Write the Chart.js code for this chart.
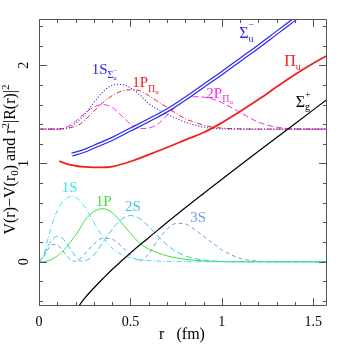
<!DOCTYPE html>
<html lang="en">
  <head>
    <meta charset="UTF-8" />
    <title>Potentials and wave functions</title>
    <script src="https://cdn.jsdelivr.net/npm/chart.js"></script>
    <style>
      html, body { margin: 0; padding: 0; background: #fff; }
      #box { width: 346px; height: 346px; }
    </style>
  </head>
  <body>
    <div id="box"><canvas id="grafico"></canvas></div>

    <script>
      // r grid (fm) shared by the wave functions
      const r = [0, 0.025, 0.05, 0.075, 0.1, 0.125, 0.15, 0.175, 0.2, 0.225, 0.25, 0.3, 0.35, 0.4, 0.45, 0.5,
        0.55, 0.6, 0.65, 0.7, 0.75, 0.8, 0.85, 0.9, 0.95, 1.0, 1.1, 1.2, 1.3, 1.4, 1.5, 1.575];

      // r^2 |R(r)|^2 , Sigma_g+ states (baseline 0)
      const wave1S = [0, 0.07, 0.24, 0.40, 0.52, 0.60, 0.645, 0.665, 0.655, 0.62, 0.56, 0.40, 0.25, 0.14, 0.075, 0.04,
        0.022, 0.012, 0.007, 0.004, 0.002, 0.001, 0, 0, 0, 0, 0, 0, 0, 0, 0, 0];
      const wave1P = [0, 0.002, 0.01, 0.03, 0.06, 0.10, 0.15, 0.21, 0.27, 0.34, 0.42, 0.51, 0.54, 0.50, 0.40, 0.29,
        0.19, 0.13, 0.09, 0.06, 0.04, 0.025, 0.015, 0.008, 0.004, 0.002, 0, 0, 0, 0, 0, 0];
      const wave2S = [0, 0.06, 0.16, 0.23, 0.26, 0.245, 0.19, 0.12, 0.055, 0.008, 0.01, 0.07, 0.20, 0.33, 0.43, 0.47,
        0.44, 0.36, 0.26, 0.17, 0.105, 0.06, 0.033, 0.017, 0.008, 0.003, 0, 0, 0, 0, 0, 0];
      const wave3S = [0, 0.05, 0.13, 0.175, 0.17, 0.125, 0.065, 0.02, 0.004, 0.03, 0.08, 0.18, 0.24, 0.23, 0.16, 0.07,
        0.01, 0.08, 0.22, 0.33, 0.39, 0.385, 0.33, 0.26, 0.19, 0.12, 0.035, 0.006, 0, 0, 0, 0];

      // hybrid states (baseline 1.35)
      const wave1SSu = [1.35, 1.35, 1.35, 1.35, 1.35, 1.352, 1.36, 1.38, 1.41, 1.45, 1.50, 1.62, 1.73, 1.795, 1.805, 1.77,
        1.70, 1.61, 1.55, 1.50, 1.46, 1.42, 1.39, 1.37, 1.357, 1.352, 1.35, 1.35, 1.35, 1.35, 1.35, 1.35];
      const wave1PPu = [1.35, 1.35, 1.35, 1.35, 1.35, 1.352, 1.357, 1.365, 1.38, 1.40, 1.44, 1.53, 1.62, 1.69, 1.735, 1.75,
        1.74, 1.69, 1.63, 1.57, 1.51, 1.455, 1.42, 1.39, 1.37, 1.36, 1.352, 1.35, 1.35, 1.35, 1.35, 1.35];
      const wave2PPu = [1.35, 1.35, 1.35, 1.35, 1.35, 1.355, 1.37, 1.395, 1.43, 1.47, 1.51, 1.575, 1.60, 1.57, 1.49, 1.40,
        1.355, 1.36, 1.40, 1.49, 1.58, 1.65, 1.68, 1.675, 1.655, 1.62, 1.52, 1.42, 1.37, 1.352, 1.35, 1.35];

      // potentials V(r)-V(r0)
      const rSigmaG = [0.21, 0.25, 0.3, 0.35, 0.4, 0.5, 0.6, 0.73, 0.9, 1.05, 1.2, 1.4, 1.578];
      const vSigmaG = [-0.47, -0.37, -0.267, -0.17, -0.078, 0.09, 0.245, 0.445, 0.695, 0.91, 1.124, 1.405, 1.655];
      const rPiU = [0.11, 0.15, 0.2, 0.25, 0.3, 0.35, 0.4, 0.5, 0.6, 0.72, 0.8, 0.9, 1.0, 1.1, 1.2, 1.3, 1.4, 1.5, 1.578];
      const vPiU = [1.025, 0.997, 0.977, 0.965, 0.96, 0.961, 0.968, 1.02, 1.09, 1.178, 1.24, 1.315, 1.415, 1.53, 1.65,
        1.78, 1.905, 2.02, 2.1];
      const rSigmaU = [0.18, 0.25, 0.3, 0.4, 0.5, 0.6, 0.7, 0.8, 0.9, 1.0, 1.1, 1.2, 1.3, 1.4, 1.45];
      const vSigmaU = [1.09, 1.13, 1.17, 1.25, 1.345, 1.44, 1.54, 1.66, 1.79, 1.92, 2.055, 2.19, 2.33, 2.47, 2.54];

      // ticks
      const xTicks = [0, 0.5, 1, 1.5];
      const xTickLabels = ["0", "0.5", "1", "1.5"];
      const yTicks = [0, 1, 2];
      const yTickLabels = ["0", "1", "2"];

      const FONT = '"Liberation Serif", "Times New Roman", serif';

      function pts(xs, ys) {
        return xs.map((v, i) => ({ x: v, y: ys[i] }));
      }

      function serie(label, xs, ys, color, width, dash, order, suave) {
        const d = {
          label: label,
          data: pts(xs, ys),
          borderColor: color,
          borderWidth: width,
          borderDash: dash || [],
          pointRadius: 0,
          fill: false,
          order: order || 5,
        };
        if (suave) d.tension = 0.4;
        else d.cubicInterpolationMode = "monotone";
        return d;
      }

      function richWidth(ctx, segs) {
        let w = 0;
        for (const [t, s, dy, stay] of segs) {
          ctx.font = s + "px " + FONT;
          if (!stay) w += ctx.measureText(t).width;
        }
        return w;
      }

      function drawRich(ctx, x, y, segs) {
        let cx = x;
        for (const [t, s, dy, stay] of segs) {
          ctx.font = s + "px " + FONT;
          ctx.fillText(t, cx, y + dy);
          if (!stay) cx += ctx.measureText(t).width;
        }
      }

      const rotulos = [
        { x: 0.124, y: 0.707, c: "#40e0f0", segs: [["1S", 15, 0]] },
        { x: 0.31, y: 0.572, c: "#3ee03e", segs: [["1P", 15, 0]] },
        { x: 0.47, y: 0.521, c: "#3cc8dc", segs: [["2S", 15, 0]] },
        { x: 0.827, y: 0.40, c: "#6aa0dc", segs: [["3S", 15, 0]] },
        { x: 0.288, y: 1.915, c: "#2828f0", segs: [["1S", 15, 0], ["Σ", 10, 4], ["−", 7, -1, true], ["u", 7, 6]] },
        { x: 0.51, y: 1.781, c: "#f02020", segs: [["1P", 15, 0], ["Π", 10, 5], ["u", 7, 7]] },
        { x: 0.915, y: 1.665, c: "#f030f0", segs: [["2P", 15, 0], ["Π", 10, 4], ["u", 7, 6]] },
        { x: 1.095, y: 2.273, c: "#2828f0", segs: [["Σ", 16, 0], ["−", 10, -10, true], ["u", 10, 4]] },
        { x: 1.341, y: 1.993, c: "#f02020", segs: [["Π", 16, 0], ["u", 10, 4]] },
        { x: 1.404, y: 1.572, c: "#000", segs: [["Σ", 16, 0], ["+", 10, -9, true], ["g", 10, 3]] },
      ];

      const moldura = {
        id: "moldura",
        afterDraw(chart) {
          const { ctx, chartArea: a, scales } = chart;
          const sx = scales.x, sy = scales.y;
          ctx.save();
          ctx.strokeStyle = "#555";
          ctx.lineWidth = 1;
          ctx.beginPath();
          ctx.rect(a.left + 0.5, a.top + 0.5, a.right - a.left - 1, a.bottom - a.top - 1);
          // x ticks every 0.1, major every 0.5
          for (let k = 0; k <= 15; k++) {
            const px = Math.round(sx.getPixelForValue(k * 0.1)) + 0.5;
            const len = k % 5 === 0 ? 8 : 4;
            ctx.moveTo(px, a.bottom); ctx.lineTo(px, a.bottom - len);
            ctx.moveTo(px, a.top); ctx.lineTo(px, a.top + len);
          }
          // y ticks every 0.2, major every 1
          for (let k = -2; k <= 12; k++) {
            const py = Math.round(sy.getPixelForValue(k * 0.2)) + 0.5;
            const len = k % 5 === 0 ? 8 : 4;
            ctx.moveTo(a.left, py); ctx.lineTo(a.left + len, py);
            ctx.moveTo(a.right, py); ctx.lineTo(a.right - len, py);
          }
          ctx.stroke();

          ctx.fillStyle = "#000";
          ctx.font = "14px " + FONT;
          ctx.textAlign = "center";
          ctx.textBaseline = "alphabetic";
          xTicks.forEach((v, i) => {
            ctx.fillText(xTickLabels[i], sx.getPixelForValue(v), a.bottom + 20);
          });
          yTicks.forEach((v, i) => {
            ctx.save();
            ctx.translate(a.left - 11, sy.getPixelForValue(v));
            ctx.rotate(-Math.PI / 2);
            ctx.fillText(yTickLabels[i], 0, 0);
            ctx.restore();
          });

          // axis titles
          ctx.font = "16px " + FONT;
          ctx.textAlign = "left";
          const cx = (a.left + a.right) / 2;
          ctx.fillText("r", cx - 24, a.bottom + 33);
          ctx.fillText("(fm)", cx - 6.5, a.bottom + 33);

          const tituloY = [["V(r)−V(r", 16, 0], ["0", 11, 3], [") and r", 16, 0], ["2", 11, -6], ["|R(r)|", 16, 0], ["2", 11, -6]];
          ctx.save();
          ctx.translate(15, (a.top + a.bottom) / 2 - 3);
          ctx.rotate(-Math.PI / 2);
          drawRich(ctx, -richWidth(ctx, tituloY) / 2, 0, tituloY);
          ctx.restore();

          // curve labels
          rotulos.forEach((l) => {
            ctx.fillStyle = l.c;
            drawRich(ctx, sx.getPixelForValue(l.x), sy.getPixelForValue(l.y), l.segs);
          });
          ctx.restore();
        },
      };

      const ctx = document.getElementById("grafico").getContext("2d");

      new Chart(ctx, {
        type: "line",
        data: {
          datasets: [
            serie("1S", r, wave1S, "#40e0f0", 1, [5, 2, 1, 2]),
            serie("1P", r, wave1P, "#3ee03e", 1),
            serie("2S", r, wave2S, "#3cc8dc", 1, [6, 3]),
            serie("3S", r, wave3S, "#6aa0dc", 1, [4, 3]),
            serie("1S Sigma_u-", r, wave1SSu, "#2828f0", 1.2, [1, 2]),
            serie("1P Pi_u", r, wave1PPu, "#f02020", 1, [5, 2, 1, 2]),
            serie("2P Pi_u", r, wave2PPu, "#f030f0", 1, [6, 3]),
            serie("Sigma_g+", rSigmaG, vSigmaG, "#000", 1.2, null, 3, true),
            serie("Pi_u", rPiU, vPiU, "#f02020", 1.8, null, 3, true),
            serie("Sigma_u-", rSigmaU, vSigmaU, "#2828f0", 4, null, 2, true),
            serie("Sigma_u- inner", rSigmaU, vSigmaU, "#ffffff", 1.6, null, 1, true),
          ],
        },
        options: {
          responsive: true,
          maintainAspectRatio: false,
          animation: false,
          events: [],
          layout: { padding: { left: 39, right: 19, top: 19, bottom: 40 } },
          scales: {
            x: { type: "linear", min: 0, max: 1.575, display: false },
            y: { type: "linear", min: -0.45, max: 2.47, display: false },
          },
          plugins: {
            legend: { display: false },
            tooltip: { enabled: false },
          },
        },
        plugins: [moldura],
      });
    </script>
  </body>
</html>
